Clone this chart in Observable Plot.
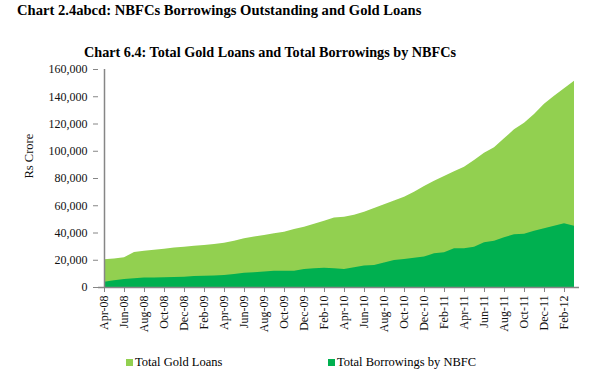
<!DOCTYPE html>
<html><head><meta charset="utf-8">
<script src="https://cdn.jsdelivr.net/npm/d3@7"></script>
<script src="https://cdn.jsdelivr.net/npm/@observablehq/plot@0.6"></script>
<style>
html,body{margin:0;padding:0;background:#fff;}
#wrap{position:relative;width:591px;height:376px;overflow:hidden;font-family:"Liberation Serif","Times New Roman",serif;color:#000;}
#wrap svg{position:absolute;left:0;top:0;}
.t{position:absolute;white-space:nowrap;line-height:1;}
#mainTitle{left:17px;top:3px;font-size:14.6px;font-weight:bold;}
#chartTitle{left:0;width:540px;text-align:center;top:45px;font-size:14.2px;font-weight:bold;}
.leg{position:absolute;top:356px;font-size:12.5px;line-height:1;white-space:nowrap;}
.sw{display:inline-block;width:7px;height:7px;margin-right:2px;vertical-align:0px;}
</style></head><body>
<div id="wrap">
  <div class="t" id="mainTitle"></div>
  <div class="t" id="chartTitle"></div>
</div>
<script>
const mainTitle = "Chart 2.4abcd: NBFCs Borrowings Outstanding and Gold Loans";
const chartTitle = "Chart 6.4: Total Gold Loans and Total Borrowings by NBFCs";
const yLabel = "Rs Crore";
const seriesNames = ["Total Gold Loans", "Total Borrowings by NBFC"];
const seriesColors = ["#92d050", "#00b050"];

const months = [
  "Apr-08","May-08","Jun-08","Jul-08","Aug-08","Sep-08","Oct-08","Nov-08","Dec-08","Jan-09","Feb-09","Mar-09",
  "Apr-09","May-09","Jun-09","Jul-09","Aug-09","Sep-09","Oct-09","Nov-09","Dec-09","Jan-10","Feb-10","Mar-10",
  "Apr-10","May-10","Jun-10","Jul-10","Aug-10","Sep-10","Oct-10","Nov-10","Dec-10","Jan-11","Feb-11","Mar-11",
  "Apr-11","May-11","Jun-11","Jul-11","Aug-11","Sep-11","Oct-11","Nov-11","Dec-11","Jan-12","Feb-12","Mar-12"
];
const goldLoans = [
  20300,21000,21800,25700,26600,27400,28100,28900,29600,30200,30800,31600,
  32500,34000,35700,37000,38200,39400,40600,42500,44300,46500,48700,51100,
  51600,53000,55300,58000,60700,63500,66300,70000,74100,78000,81500,85000,
  88300,93200,98600,102500,109100,115700,120500,127000,134500,140300,145800,151400
];
const borrowings = [
  3900,4900,5900,6400,6900,7000,7100,7400,7600,8000,8300,8500,
  8800,9600,10500,10900,11300,12000,12000,12000,13200,13700,14200,13800,
  13200,14500,15700,16100,17900,19800,20600,21500,22300,24700,25500,28400,
  28400,29600,32800,34000,36500,38700,39100,41300,43100,45000,46700,45000
];
const xTickLabels = ["Apr-08","Jun-08","Aug-08","Oct-08","Dec-08","Feb-09","Apr-09","Jun-09","Aug-09","Oct-09","Dec-09","Feb-10",
  "Apr-10","Jun-10","Aug-10","Oct-10","Dec-10","Feb-11","Apr-11","Jun-11","Aug-11","Oct-11","Dec-11","Feb-12"];
const yTicks = [0,20000,40000,60000,80000,100000,120000,140000,160000];

const data = months.map((m, i) => ({month: m, gold: goldLoans[i], borrow: borrowings[i]}));
const fmt = d3.format(",");

const chart = Plot.plot({
  width: 591, height: 376,
  marginLeft: 98, marginRight: 12, marginTop: 69, marginBottom: 89,
  style: {fontFamily: '"Liberation Serif","Times New Roman",serif', fontSize: "12px", background: "transparent", color: "#000"},
  x: {type: "point", domain: months, padding: 0},
  y: {domain: [0, 160000]},
  marks: [
    Plot.areaY(data, {x: "month", y: "gold", fill: seriesColors[0]}),
    Plot.areaY(data, {x: "month", y: "borrow", fill: seriesColors[1]}),
    Plot.ruleY([0], {stroke: "#868686", strokeWidth: 1.5}),
    Plot.ruleX([months[0]], {stroke: "#868686", strokeWidth: 1.5}),
    Plot.axisX(xTickLabels, {tickRotate: -90, tickSize: 5, tickPadding: 3, stroke: "#868686", fill: "#111", label: null}),
    Plot.axisY(yTicks, {tickSize: 5, tickPadding: 6, tickFormat: fmt, stroke: "#868686", fill: "#111", label: null}),
    Plot.text([yLabel], {frameAnchor: "left", dx: -70, rotate: -90, fill: "#111", fontSize: 12.5})
  ]
});
const wrap = document.getElementById("wrap");
wrap.insertBefore(chart, wrap.firstChild);
document.getElementById("mainTitle").textContent = mainTitle;
document.getElementById("chartTitle").textContent = chartTitle;

const legX = [126, 328];
seriesNames.forEach((name, i) => {
  const d = document.createElement("div");
  d.className = "leg";
  d.style.left = legX[i] + "px";
  const sw = document.createElement("span");
  sw.className = "sw";
  sw.style.background = seriesColors[i];
  d.appendChild(sw);
  d.appendChild(document.createTextNode(name));
  wrap.appendChild(d);
});
</script>
</body></html>
